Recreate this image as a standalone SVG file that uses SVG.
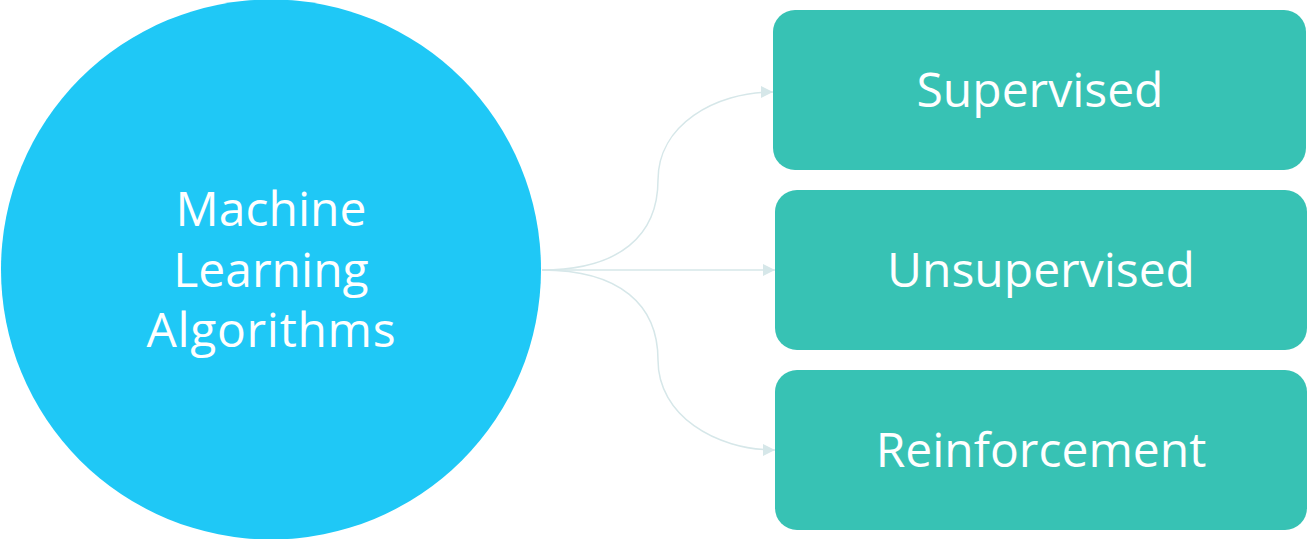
<svg xmlns="http://www.w3.org/2000/svg" width="1308" height="539" viewBox="0 0 1308 539">
<style>
.box{fill:#37C2B4}
.lbl{font-family:"Open Sans","Noto Sans",sans-serif;font-size:48px;fill:#ffffff;text-anchor:middle}
.edge{fill:none;stroke:#D6E7E9;stroke-width:1.5}
</style>
<defs>
<marker id="arr" markerWidth="12" markerHeight="12" refX="12" refY="6" orient="auto" markerUnits="userSpaceOnUse">
<path d="M0,0 L12,6 L0,12 Z" fill="#D6E7E9"/>
</marker>
</defs>
<rect width="1308" height="539" fill="#ffffff"/>
<g id="connectors">
<path class="edge" d="M542,270 C620,270 658,235 658,180 C658,125 715,92 773,92" marker-end="url(#arr)"/>
<path class="edge" d="M542,270 L775,270" marker-end="url(#arr)"/>
<path class="edge" d="M542,270 C620,270 658,305 658,360 C658,415 715,450 775,450" marker-end="url(#arr)"/>
</g>
<g id="node-ml">
<circle cx="271" cy="269.5" r="270" fill="#1FC8F6"/>
<text class="lbl" x="271" y="226">Machine</text>
<text class="lbl" x="271" y="287">Learning</text>
<text class="lbl" x="271" y="347" textLength="249">Algorithms</text>
</g>
<g id="node-supervised">
<rect class="box" x="773" y="10" width="533" height="160" rx="22"/>
<text class="lbl" x="1040" y="107">Supervised</text>
</g>
<g id="node-unsupervised">
<rect class="box" x="775" y="190" width="532" height="160" rx="22"/>
<text class="lbl" x="1041" y="287">Unsupervised</text>
</g>
<g id="node-reinforcement">
<rect class="box" x="775" y="370" width="532" height="160" rx="22"/>
<text class="lbl" x="1041" y="467">Reinforcement</text>
</g>
</svg>
